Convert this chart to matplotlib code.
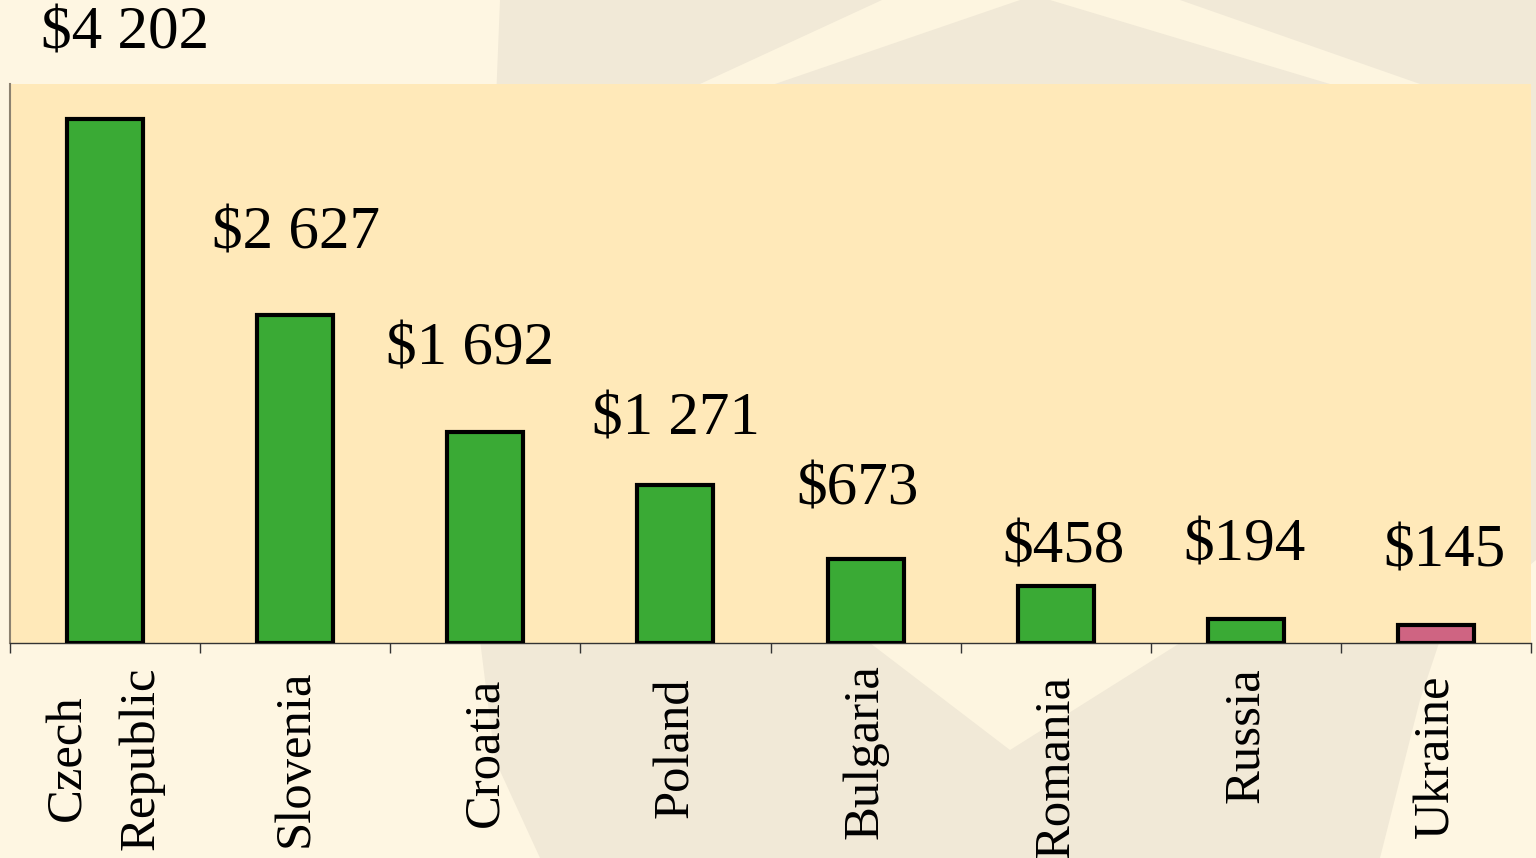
import numpy as np
import matplotlib.pyplot as plt
from matplotlib.patches import Polygon
from matplotlib.ticker import FixedLocator, NullLocator

# data
countries = ['Czech\nRepublic', 'Slovenia', 'Croatia', 'Poland',
             'Bulgaria', 'Romania', 'Russia', 'Ukraine']
values = [4202, 2627, 1692, 1271, 673, 458, 194, 145]
value_labels = ['$4 202', '$2 627', '$1 692', '$1 271',
                '$673', '$458', '$194', '$145']

green = '#3AAA35'
pink = '#CF6482'
bar_colors = [green] * 7 + [pink]

# label offsets (pixels) from the bar top, as placed on the slide
lab_dx = [20, 1, -15, 0, -8, 8, -1, 8]
lab_dy = [71, 67, 68, 50, 55, 23, 58, 58]
# vertical centre (pixels from the top) of each rotated country name
name_y = [758, 758, 752, 748, 752, 766, 735, 756]

W, H = 1536, 858
fig = plt.figure(figsize=(W / 100, H / 100), dpi=100)
fig.patch.set_facecolor('#FEF6E2')

# faint watermark behind the chart
def px(pts):
    return [(x / W, 1 - y / H) for x, y in pts]

shade = '#F1E9D7'
blob = px([(500, 0), (1536, 0), (1536, 560), (1440, 640), (1420, 700),
           (1380, 858), (540, 858), (495, 760), (480, 640), (488, 300)])
fig.patches.append(Polygon(blob, closed=True, transform=fig.transFigure,
                           facecolor=shade, edgecolor='none', zorder=-2))
light = '#FDF5E0'
stripes = [
    [(700, 84), (775, 84), (1020, 0), (882, 0)],
    [(1050, 0), (1180, 0), (1420, 84), (1330, 84)],
    [(870, 643), (1180, 643), (1010, 750)],
]
for s in stripes:
    fig.patches.append(Polygon(px(s), closed=True, transform=fig.transFigure,
                               facecolor=light, edgecolor='none', zorder=-1))

ax = fig.add_axes([10 / W, 1 - 643 / H, 1521 / W, 559 / H])
ax.set_zorder(2)
ax.set_facecolor('#FFE9B9')

x = np.arange(len(values))
ax.bar(x, values, width=0.4, color=bar_colors, edgecolor='black',
       linewidth=3, zorder=3)

ax.set_xlim(-0.5, len(values) - 0.5)
ax.set_ylim(0, 4483)

for i in range(len(values)):
    ax.annotate(value_labels[i], xy=(x[i], values[i]),
                xytext=(lab_dx[i], lab_dy[i]), textcoords='offset pixels',
                ha='center', va='baseline', fontsize=44,
                family='Liberation Serif', color='black',
                annotation_clip=False)

# category names, rotated, below the axis
trans = ax.get_xaxis_transform()
for i in range(len(countries)):
    yy = (643 - name_y[i]) / 559
    ax.text(x[i], yy, countries[i], transform=trans, rotation=90,
            ha='center', va='center', multialignment='center',
            fontsize=36.5, family='Liberation Serif', linespacing=1.75)

ax.xaxis.set_major_locator(FixedLocator(np.arange(-0.5, len(values), 1)))
ax.set_xticklabels([])
ax.tick_params(axis='x', direction='out', length=7.5, width=1,
               color='#333333')
ax.yaxis.set_major_locator(NullLocator())

for side in ['top', 'right']:
    ax.spines[side].set_visible(False)
ax.spines['left'].set_color('#8C8270')
ax.spines['left'].set_linewidth(1.5)
ax.spines['bottom'].set_color('#333333')
ax.spines['bottom'].set_linewidth(1)

plt.savefig('out.png', dpi=100, facecolor=fig.get_facecolor())
